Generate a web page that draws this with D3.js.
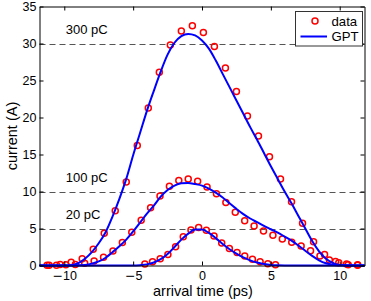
<!DOCTYPE html>
<html>
  <head>
    <title>Current profiles</title>
    <style>
      body,
      html {
        margin: 0;
        padding: 0;
        background: #fff;
      }
      svg {
        display: block;
        font-family: 'Liberation Sans', Arial, sans-serif;
      }
    </style>
  </head>
  <body>
    <script src="https://cdn.jsdelivr.net/npm/d3@7"></script>
    <script>
      // measured points (circles), one series per bunch charge
      const x300 = d3.range(29).map((k) => -11.1 + 0.8 * k);
      const data300 = [
        0.05, 0.12, 0.45, 0.9, 2.2, 4.35, 7.4, 11.3, 16.2, 21.3, 26.1, 29.8,
        31.7, 32.4, 31.5, 29.6, 26.7, 23.5, 20.2, 17.5, 14.7, 11.7, 8.6, 5.7,
        3.2, 1.5, 0.55, 0.2, 0.1,
      ];
      const x100 = d3.range(34).map((k) => -11.25 + 0.6833 * k);
      const data100 = [
        0.05, 0.05, 0.1, 0.15, 0.3, 0.6, 1.1, 1.96, 3.1, 4.5, 6.1, 7.8, 9.4,
        10.7, 11.5, 11.7, 11.4, 10.6, 9.7, 8.5, 7.2, 6.05, 5.35, 4.66, 4.08,
        3.58, 3.13, 2.64, 2.0, 1.28, 0.74, 0.38, 0.1, 0.05,
      ];
      const x20 = d3.range(18).map((k) => -4.15 + 0.558 * k);
      const data20 = [
        0.2, 0.5, 0.9, 1.5, 2.55, 3.9, 4.8, 5.15, 4.75, 4.0, 3.05, 2.3, 1.75,
        1.3, 0.85, 0.5, 0.25, 0.1,
      ];

      // simulation (GPT) curves sampled on a common grid
      const gptX = [-11.8].concat(d3.range(-10, 10.01, 0.5), [11.8]);
      const gpt300 = [
        0, 0, 0.05, 0.3, 0.9, 1.8, 3.0, 4.5, 6.6, 9.0, 11.7, 14.9, 17.9, 20.9,
        23.6, 26.2, 28.5, 30.1, 31.0, 31.3, 31.1, 30.4, 29.3, 27.7, 25.9, 24.1,
        22.3, 20.5, 18.7, 17.0, 15.2, 13.4, 11.7, 10.0, 8.4, 6.7, 5.0, 3.3,
        1.9, 0.9, 0.35, 0.08, 0,
      ];
      const gpt100 = [
        0, 0, 0, 0.02, 0.08, 0.25, 0.55, 1.05, 1.8, 2.6, 3.5, 4.6, 5.8, 7.0,
        8.1, 9.3, 10.2, 10.8, 11.1, 11.15, 11.0, 10.8, 10.4, 9.85, 9.2, 8.4,
        7.65, 6.95, 6.35, 5.85, 5.35, 4.9, 4.45, 3.9, 3.35, 2.7, 2.0, 1.3, 0.7,
        0.3, 0.1, 0.02, 0,
      ];
      const gpt20 = [
        0, 0, 0, 0, 0, 0, 0, 0, 0, 0, 0, 0, 0.05, 0.15, 0.4, 0.85, 1.55, 2.5,
        3.5, 4.3, 4.85, 4.85, 4.4, 3.7, 2.9, 2.2, 1.6, 1.1, 0.7, 0.4, 0.2,
        0.07, 0.02, 0, 0, 0, 0, 0, 0, 0, 0, 0, 0,
      ];

      const charges = ['300 pC', '100 pC', '20 pC'];
      const levels = [30, 10, 5];
      const xTicks = [-10, -5, 0, 5, 10];
      const yTicks = [0, 5, 10, 15, 20, 25, 30, 35];

      const width = 371;
      const height = 301;
      const plotLeft = 39.5,
        plotRight = 364.5,
        plotTop = 6.5,
        plotBottom = 265.5;

      const svg = d3
        .select('body')
        .append('svg')
        .attr('width', width)
        .attr('height', height);

      const x = d3
        .scaleLinear()
        .domain([-11.8, 11.8])
        .range([plotLeft, plotRight]);
      const y = d3.scaleLinear().domain([0, 35]).range([plotBottom, plotTop]);

      // dashed reference levels and their labels
      svg
        .selectAll('line.level')
        .data(levels)
        .enter()
        .append('line')
        .attr('x1', plotLeft)
        .attr('x2', plotRight)
        .attr('y1', (d) => Math.round(y(d)) + 0.5)
        .attr('y2', (d) => Math.round(y(d)) + 0.5)
        .attr('stroke', '#555')
        .attr('stroke-width', 1)
        .attr('stroke-dasharray', '6,4');

      svg
        .selectAll('text.charge')
        .data(charges)
        .enter()
        .append('text')
        .attr('x', x(-10) + 1.5)
        .attr('y', (d, i) => y(levels[i]) - 9.5)
        .attr('font-size', 13)
        .text((d) => d);

      const series = [
        [x300, data300],
        [x100, data100],
        [x20, data20],
      ];
      series.forEach(([xs, vs]) => {
        svg
          .append('g')
          .selectAll('circle')
          .data(vs)
          .enter()
          .append('circle')
          .attr('cx', (d, i) => x(xs[i]))
          .attr('cy', (d) => y(d))
          .attr('r', 3)
          .attr('fill', 'none')
          .attr('stroke', '#ff0000')
          .attr('stroke-width', 1.5);
      });

      const line = d3
        .line()
        .x((d, i) => x(gptX[i]))
        .y((d) => y(d))
        .curve(d3.curveMonotoneX);

      [gpt300, gpt100, gpt20].forEach((vs) => {
        svg
          .append('path')
          .attr('d', line(vs))
          .attr('fill', 'none')
          .attr('stroke', '#0000ff')
          .attr('stroke-width', 2);
      });

      // box axes, ticks pointing inwards
      const minus = (d) => (d < 0 ? '\u2212' + Math.abs(d) : '' + d);
      const gx = svg
        .append('g')
        .attr('transform', `translate(0,${plotBottom})`)
        .call(
          d3
            .axisBottom(x)
            .tickValues(xTicks)
            .tickSizeInner(-4)
            .tickSizeOuter(0)
            .tickPadding(6)
            .tickFormat(minus)
        );
      svg
        .append('g')
        .attr('transform', `translate(0,${plotTop})`)
        .call(
          d3
            .axisTop(x)
            .tickValues(xTicks)
            .tickSizeInner(-4)
            .tickSizeOuter(0)
            .tickFormat('')
        );
      svg
        .append('g')
        .attr('transform', `translate(${plotLeft},0)`)
        .call(
          d3
            .axisLeft(y)
            .tickValues(yTicks)
            .tickSizeInner(-4)
            .tickSizeOuter(0)
            .tickPadding(3)
        );
      svg
        .append('g')
        .attr('transform', `translate(${plotRight},0)`)
        .call(
          d3
            .axisRight(y)
            .tickValues(yTicks)
            .tickSizeInner(-4)
            .tickSizeOuter(0)
            .tickFormat('')
        );

      svg
        .selectAll('.tick text')
        .attr('font-size', 12.5)
        .attr('font-family', "'Liberation Sans', Arial, sans-serif")
        .attr('fill', '#000');
      svg.selectAll('.domain, .tick line').attr('stroke', '#000');

      // wider minus like the original
      gx.selectAll('.tick text').each(function (d) {
        if (d < 0) {
          const t = d3.select(this).text('');
          t.append('tspan')
            .attr('font-family', "'DejaVu Sans'")
            .text('\u2212');
          t.append('tspan').text(Math.abs(d));
        }
      });

      svg
        .append('text')
        .attr('x', 203)
        .attr('y', 295.5)
        .attr('text-anchor', 'middle')
        .attr('font-size', 14.5)
        .text('arrival time (ps)');

      svg
        .append('text')
        .attr('transform', 'translate(16.5,136) rotate(-90)')
        .attr('text-anchor', 'middle')
        .attr('font-size', 14.5)
        .text('current (A)');

      // legend
      const lg = svg.append('g');
      lg.append('rect')
        .attr('x', 295.5)
        .attr('y', 11.5)
        .attr('width', 67)
        .attr('height', 34.5)
        .attr('fill', '#fff')
        .attr('stroke', '#333');
      lg.append('circle')
        .attr('cx', 315)
        .attr('cy', 21)
        .attr('r', 3)
        .attr('fill', 'none')
        .attr('stroke', '#ff0000')
        .attr('stroke-width', 1.5);
      lg.append('line')
        .attr('x1', 300.5)
        .attr('x2', 327)
        .attr('y1', 36.5)
        .attr('y2', 36.5)
        .attr('stroke', '#0000ff')
        .attr('stroke-width', 2);
      lg.append('text')
        .attr('x', 331.5)
        .attr('y', 25.5)
        .attr('font-size', 13.2)
        .text('data');
      lg.append('text')
        .attr('x', 331.5)
        .attr('y', 41.3)
        .attr('font-size', 13.2)
        .text('GPT');
    </script>
  </body>
</html>
